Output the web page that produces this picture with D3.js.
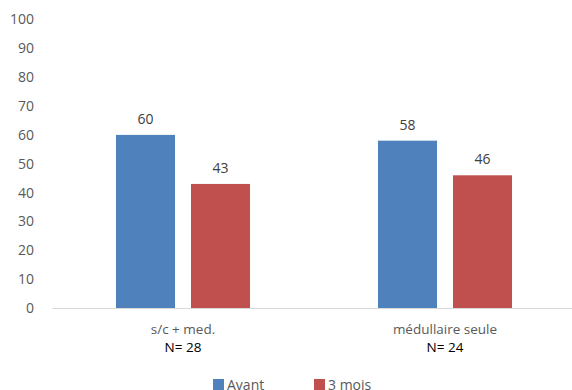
<!DOCTYPE html>
<html>
<head>
<meta charset="utf-8">
<script src="https://cdn.jsdelivr.net/npm/d3@7/dist/d3.min.js"></script>
<style>
  html, body { margin: 0; padding: 0; background: #fff; }
  svg { display: block; font-family: "Open Sans", "Liberation Sans", sans-serif; }
</style>
</head>
<body>
<svg id="chart" width="572" height="390"></svg>
<script>
// Groups and their sample sizes
const categories = ["s/c + med.", "médullaire seule"];
const sampleSizes = ["N= 28", "N= 24"];
// Series
const seriesNames = ["Avant", "3 mois"];
const avant = [60, 58];
const troisMois = [43, 46];
const yTicks = [0, 10, 20, 30, 40, 50, 60, 70, 80, 90, 100];
const colors = ["#4f81bd", "#c0504d"];

const svg = d3.select("#chart");
const x0 = 52, x1 = 576, yTop = 19.5, yBottom = 308;

const x = d3.scaleBand().domain(categories).range([x0, x1]).paddingInner(0).paddingOuter(0);
const xs = d3.scaleBand().domain(seriesNames).range([0, x.bandwidth()]).paddingInner(0.213).paddingOuter(0.853);
const y = d3.scaleLinear().domain([0, 100]).range([yBottom, yTop]);

const series = [avant, troisMois];

// Y axis labels (no axis line)
const yAxis = svg.append("g")
  .attr("transform", `translate(${x0},0)`)
  .call(d3.axisLeft(y).tickValues(yTicks).tickSize(0).tickPadding(18));
yAxis.select(".domain").remove();
yAxis.selectAll("text").attr("fill", "#595959").style("font-size", "14px")
  .style("font-family", '"Open Sans", "Liberation Sans", sans-serif');

// Bars
const groups = svg.append("g").selectAll("g")
  .data(categories).join("g")
  .attr("transform", d => `translate(${x(d)},0)`);

groups.selectAll("rect")
  .data((d, i) => seriesNames.map((s, j) => ({ s, v: series[j][i], j })))
  .join("rect")
  .attr("x", d => xs(d.s))
  .attr("width", xs.bandwidth())
  .attr("y", d => y(d.v))
  .attr("height", d => y(0) - y(d.v))
  .attr("fill", d => colors[d.j]);

// Value labels
groups.selectAll("text.val")
  .data((d, i) => seriesNames.map((s, j) => ({ s, v: series[j][i] })))
  .join("text")
  .attr("class", "val")
  .attr("x", d => xs(d.s) + xs.bandwidth() / 2)
  .attr("y", d => y(d.v) - 11)
  .attr("text-anchor", "middle")
  .attr("fill", "#404040")
  .style("font-size", "14px")
  .text(d => d.v);

// X axis baseline
svg.append("g")
  .attr("transform", `translate(0,${yBottom})`)
  .call(d3.axisBottom(x).tickSize(0).tickFormat(""))
  .call(g => g.select(".domain").attr("stroke", "#d9d9d9").attr("stroke-width", 1));

// Category labels
categories.forEach((c, i) => {
  const cx = x(c) + x.bandwidth() / 2;
  svg.append("text").attr("x", cx).attr("y", 334)
    .attr("text-anchor", "middle").attr("fill", "#595959")
    .style("font-size", "13.5px").text(c);
  svg.append("text").attr("x", cx).attr("y", 352)
    .attr("text-anchor", "middle").attr("fill", "#000")
    .style("font-size", "13.5px").text(sampleSizes[i]);
});

// Legend
const legendX = [213, 314];
seriesNames.forEach((s, j) => {
  svg.append("rect").attr("x", legendX[j]).attr("y", 379).attr("width", 11).attr("height", 11).attr("fill", colors[j]);
  svg.append("text").attr("x", legendX[j] + 14).attr("y", 390)
    .attr("fill", "#595959").style("font-size", "14px").text(s);
});
</script>
</body>
</html>
